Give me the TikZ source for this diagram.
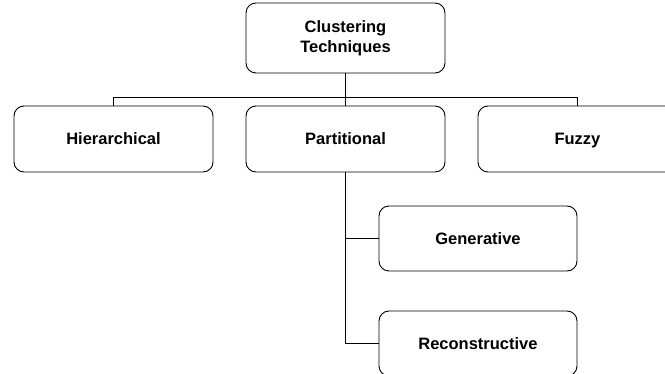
\documentclass[tikz,border=0pt]{standalone}
\usepackage{fontspec}
\setmainfont{Liberation Sans}
\begin{document}
\begin{tikzpicture}[x=1pt,y=1pt,
  box/.style={draw, line width=0.9pt, rounded corners=10pt, minimum width=199pt, minimum height=66pt, inner sep=0pt, align=center, font=\fontsize{16.5}{20.5}\selectfont\bfseries},
  onebox/.style={box, text depth=0pt},
  conn/.style={line width=1.2pt}]
\useasboundingbox (0,0) rectangle (665,-374);
\node[box, minimum height=70pt] (top) at (345.5,-38) {Clustering\\Techniques};
\node[onebox] (hier) at (113.5,-139) {Hierarchical};
\node[onebox] (part) at (345.5,-139) {Partitional};
\node[onebox] (fuzzy) at (577.5,-139) {Fuzzy};
\node[onebox, minimum width=198pt, minimum height=65pt] (gen) at (478,-238.5) {Generative};
\node[onebox, minimum width=198pt, minimum height=65pt] (rec) at (478,-343.5) {Reconstructive};
\coordinate (bus) at (345.5,-97.5);
\draw[conn] (top.south) -- (bus);
\draw[conn] (hier.north) |- (bus) -| (fuzzy.north);
\draw[conn] (bus) -- (part.north);
\draw[conn] (part.south) |- (gen.west);
\draw[conn] (part.south) |- (rec.west);
\end{tikzpicture}
\end{document}
